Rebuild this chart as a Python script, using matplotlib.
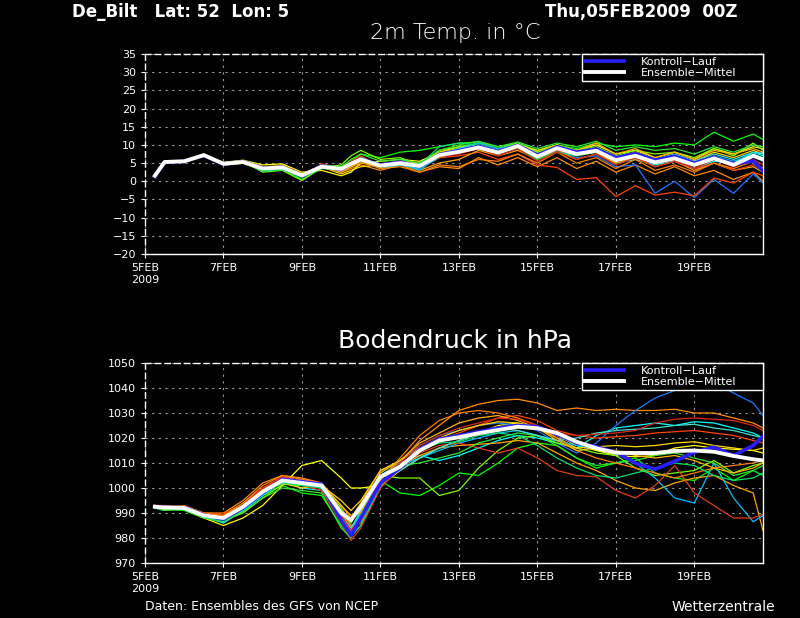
import numpy as np
import matplotlib
matplotlib.use('Agg')
from matplotlib import pyplot as plt

# forecast hours (06Z start, 12-hourly, extra step at 10FEB 06Z)
hours = [6, 12, 24, 36, 48, 60, 72, 84, 96, 108, 120, 126, 132, 144, 156, 168, 180,
         192, 204, 216, 228, 240, 252, 264, 276, 288, 300, 312, 324, 336, 348, 360, 372, 378]

tick_hours = [0, 48, 96, 144, 192, 240, 288, 336]
tick_labels = ['5FEB\n2009', '7FEB', '9FEB', '11FEB', '13FEB', '15FEB', '17FEB', '19FEB']

member_colors = ['#00ff00', '#ff8c00', '#ffff00', '#00ffff', '#1e78ff', '#ff4500',
                 '#7cfc00', '#ffa500', '#ffd700', '#00bfff', '#e03c14', '#32e632',
                 '#ff7f00', '#40e0d0', '#ffb400', '#00e070', '#dc2814']

# 2m temperature
temp_mean = [1.5, 5.3, 5.5, 7.2, 4.8, 5.3, 3.5, 3.8, 1.6, 4.0, 3.4, 4.8, 6.0, 4.3, 5.0, 4.2, 7.2,
             8.1, 9.3, 7.9, 9.7, 6.8, 9.1, 7.5, 8.4, 5.8, 7.0, 5.2, 6.3, 4.5, 6.3, 4.5, 7.0, 6.0]
temp_ctrl = [1.4, 5.2, 5.5, 7.1, 4.7, 5.4, 3.6, 3.9, 1.4, 4.2, 3.2, 4.9, 6.1, 4.5, 5.3, 4.0, 7.4,
             8.4, 9.6, 8.2, 9.9, 7.2, 9.5, 8.0, 8.9, 6.5, 7.6, 5.8, 6.9, 5.0, 6.6, 4.8, 5.6, 2.8]
temp_members = [
    [1.2, 5.0, 5.4, 7.0, 4.5, 5.0, 3.0, 3.4, 0.5, 3.5, 3.8, 5.5, 7.5, 6.5, 8.0, 8.5, 9.5,
     10.5, 10.8, 9.5, 10.5, 8.5, 10.0, 9.0, 10.5, 9.5, 10.0, 9.5, 10.5, 10.0, 13.5, 11.0, 13.0, 11.5],
    [1.6, 5.4, 5.6, 7.3, 5.0, 5.6, 3.8, 4.2, 2.0, 4.4, 2.5, 3.5, 4.5, 3.0, 4.5, 2.5, 4.0,
     3.5, 6.5, 4.5, 6.5, 4.0, 6.5, 3.5, 5.5, 2.5, 4.5, 2.0, 4.0, 1.5, 3.0, 0.5, 2.5, 0.0],
    [1.5, 5.3, 5.5, 7.2, 5.2, 5.8, 4.5, 4.8, 2.5, 3.0, 1.5, 2.5, 5.0, 5.5, 6.0, 5.5, 8.0,
     9.5, 9.8, 8.5, 10.2, 8.0, 9.5, 8.5, 10.0, 7.5, 8.5, 6.5, 8.0, 6.0, 9.0, 7.5, 9.5, 9.0],
    [1.4, 5.2, 5.5, 7.1, 4.6, 5.2, 3.4, 3.6, 1.2, 4.2, 3.0, 4.0, 5.5, 3.5, 4.5, 3.5, 6.5,
     8.0, 9.5, 8.0, 9.8, 7.5, 9.0, 7.5, 8.0, 5.0, 6.0, 4.5, 5.5, 3.5, 5.5, 5.0, 8.0, 7.0],
    [1.5, 5.3, 5.5, 7.2, 4.8, 5.3, 3.5, 3.7, 1.5, 4.5, 3.2, 5.0, 6.5, 4.5, 5.0, 4.0, 7.0,
     8.0, 9.0, 7.5, 9.5, 6.5, 8.5, 6.5, 7.0, 4.0, 4.5, -3.3, 0.0, -4.5, 0.5, -3.3, 2.0, -0.5],
    [1.3, 5.2, 5.4, 7.0, 4.4, 5.0, 3.2, 3.5, 1.0, 4.8, 3.6, 5.5, 7.0, 4.0, 5.5, 4.5, 6.5,
     7.0, 8.0, 6.0, 7.5, 4.5, 3.8, 0.5, 1.0, -4.2, -1.2, -3.8, -3.0, -4.0, 0.9, -0.5, 2.5, 1.5],
    [1.6, 5.4, 5.6, 7.3, 4.9, 5.5, 2.5, 3.0, 0.2, 3.8, 4.5, 7.0, 8.5, 6.0, 6.5, 4.5, 8.5,
     9.5, 10.5, 9.0, 10.5, 8.0, 10.0, 8.5, 9.5, 7.0, 8.5, 7.5, 8.0, 6.5, 9.0, 7.0, 10.5, 8.5],
    [1.5, 5.3, 5.5, 7.2, 5.0, 5.4, 3.8, 4.0, 1.8, 4.2, 2.8, 4.0, 5.0, 4.0, 4.8, 3.0, 5.0,
     6.0, 8.5, 7.0, 8.5, 6.0, 8.5, 6.0, 7.5, 5.0, 6.5, 4.0, 5.5, 3.0, 5.0, 3.0, 4.0, 2.5],
    [1.4, 5.2, 5.5, 7.1, 4.7, 5.2, 3.6, 4.5, 1.7, 4.0, 2.0, 3.0, 4.0, 4.5, 5.5, 5.0, 8.0,
     9.0, 10.0, 8.5, 10.0, 8.5, 10.0, 8.0, 9.0, 6.5, 8.0, 6.0, 7.0, 5.5, 8.0, 6.5, 8.5, 7.5],
    [1.5, 5.3, 5.5, 7.2, 4.8, 5.3, 3.4, 3.8, 1.4, 3.9, 3.3, 4.8, 6.2, 4.2, 4.8, 3.0, 7.0,
     9.0, 10.5, 9.0, 10.0, 7.5, 9.5, 8.0, 9.0, 6.0, 7.5, 5.5, 7.0, 5.0, 7.0, 5.5, 7.5, 8.0],
    [1.3, 5.1, 5.4, 7.0, 4.6, 5.1, 3.4, 3.9, 1.3, 4.2, 3.5, 4.5, 6.0, 4.5, 5.2, 4.0, 7.0,
     8.0, 9.0, 7.5, 9.5, 6.5, 8.5, 7.0, 8.0, 5.5, 6.5, 5.0, 6.0, 3.5, 5.0, 3.0, 4.5, 3.0],
    [1.6, 5.5, 5.6, 7.3, 5.0, 5.5, 3.6, 3.3, 1.6, 4.5, 4.0, 6.0, 7.5, 5.5, 6.0, 5.0, 8.5,
     10.0, 11.0, 9.5, 10.8, 9.0, 10.5, 9.5, 11.0, 8.5, 9.5, 8.5, 9.0, 7.5, 9.5, 8.0, 10.0, 9.5],
    [1.5, 5.3, 5.5, 7.2, 4.9, 5.4, 3.7, 4.0, 1.7, 4.0, 2.8, 4.2, 5.5, 3.5, 4.0, 2.5, 4.5,
     4.0, 6.0, 5.5, 7.5, 5.0, 8.0, 5.0, 6.5, 3.5, 6.0, 3.0, 4.5, 2.5, 5.0, 3.5, 5.5, 3.5],
    [1.5, 5.3, 5.5, 7.2, 4.8, 5.3, 3.5, 3.6, 1.5, 3.7, 3.7, 5.0, 6.5, 4.0, 5.0, 4.5, 7.5,
     9.0, 9.8, 8.5, 9.5, 7.0, 9.0, 7.5, 8.5, 6.5, 7.5, 6.0, 7.5, 5.5, 7.5, 6.0, 8.0, 7.5],
    [1.4, 5.2, 5.5, 7.1, 4.7, 5.6, 4.0, 4.3, 1.9, 4.0, 2.5, 4.0, 6.0, 4.8, 5.5, 4.5, 7.5,
     8.5, 9.5, 8.0, 9.8, 7.5, 9.5, 8.5, 10.5, 7.5, 9.0, 6.5, 8.0, 6.0, 8.5, 7.5, 9.0, 8.0],
    [1.5, 5.3, 5.5, 7.2, 4.6, 5.1, 2.8, 3.2, 1.0, 3.5, 3.3, 5.0, 6.5, 4.5, 5.5, 4.5, 9.5,
     10.5, 10.0, 8.0, 9.0, 6.0, 8.0, 7.0, 8.0, 6.0, 7.5, 6.0, 7.0, 5.0, 6.5, 4.5, 7.5, 6.5],
    [1.4, 5.2, 5.5, 7.1, 4.5, 5.0, 3.3, 3.6, 1.1, 4.3, 3.0, 4.5, 5.8, 4.0, 5.5, 3.8, 6.8,
     7.5, 9.0, 7.0, 9.0, 5.5, 8.0, 6.0, 7.5, 4.5, 6.5, 4.0, 5.5, 3.5, 6.0, 4.0, 6.0, 4.5],
]

# surface pressure
pres_mean = [992.5, 992.2, 992.0, 989.0, 988.0, 992.5, 998.5, 1003.0, 1002.0, 1001.0, 990.0, 987.2,
             992.5, 1004.5, 1008.5, 1015.0, 1019.0, 1020.3, 1021.9, 1023.2, 1024.5, 1023.9, 1022.0,
             1018.5, 1015.9, 1014.1, 1014.0, 1014.0, 1014.8, 1015.0, 1014.5, 1012.8, 1011.5, 1011.0]
pres_ctrl = [992.6, 992.3, 992.2, 989.2, 987.5, 992.0, 998.0, 1003.5, 1002.5, 1001.5, 987.0, 981.0,
             988.0, 1002.0, 1008.0, 1015.5, 1019.5, 1021.0, 1022.5, 1024.0, 1025.0, 1024.5, 1021.5,
             1018.0, 1016.5, 1014.3, 1009.9, 1007.5, 1010.7, 1014.3, 1016.3, 1013.0, 1017.0, 1020.6]
pres_members = [
    [992.0, 991.5, 991.0, 988.0, 987.0, 991.0, 997.0, 1001.0, 998.0, 997.0, 985.0, 980.0, 988.0,
     1003.0, 998.0, 997.0, 1001.0, 1006.0, 1005.0, 1010.0, 1016.0, 1018.0, 1017.0, 1012.0, 1008.0,
     1010.0, 1012.0, 1006.0, 1004.0, 1003.0, 1008.0, 1003.0, 1007.0, 1005.0],
    [993.0, 992.5, 993.0, 990.0, 990.0, 995.0, 1002.0, 1005.0, 1004.0, 1002.0, 993.0, 988.0, 994.0,
     1007.0, 1010.0, 1019.0, 1025.0, 1031.0, 1033.5, 1035.0, 1035.5, 1034.0, 1031.0, 1032.0, 1031.0,
     1031.5, 1031.0, 1031.0, 1031.5, 1030.0, 1030.0, 1028.0, 1026.0, 1024.0],
    [993.0, 992.0, 991.5, 988.0, 985.0, 988.0, 993.0, 1001.0, 1009.0, 1011.0, 1004.0, 1000.0, 1000.0,
     1001.0, 1007.0, 1012.0, 1016.0, 1019.0, 1022.0, 1025.0, 1026.0, 1024.0, 1021.0, 1017.0, 1015.0,
     1013.0, 1012.5, 1013.0, 1016.0, 1017.0, 1016.0, 1015.5, 1015.0, 1014.0],
    [992.0, 991.0, 992.5, 988.5, 986.0, 991.0, 997.0, 1002.5, 1000.0, 999.0, 988.0, 983.0, 990.0,
     1005.0, 1010.0, 1013.0, 1011.0, 1013.0, 1016.0, 1019.0, 1021.0, 1020.0, 1018.0, 1016.0, 1021.0,
     1024.0, 1025.0, 1026.0, 1025.0, 1026.5, 1026.0, 1024.0, 1022.0, 1020.0],
    [992.5, 992.0, 992.0, 989.0, 988.0, 992.0, 999.0, 1003.0, 1001.0, 1000.0, 986.0, 982.0, 991.0,
     1006.0, 1011.0, 1017.0, 1021.0, 1023.0, 1025.0, 1026.0, 1025.0, 1023.0, 1018.0, 1014.0, 1018.0,
     1025.0, 1031.0, 1036.0, 1039.0, 1042.0, 1042.0, 1038.0, 1034.0, 1029.0],
    [993.0, 993.0, 992.0, 990.0, 989.5, 994.0, 1000.0, 1004.5, 1003.0, 1002.0, 988.0, 981.0, 985.0,
     1000.0, 1009.0, 1016.0, 1019.0, 1022.0, 1025.0, 1028.0, 1029.0, 1027.0, 1023.0, 1021.0, 1020.0,
     1020.5, 1021.0, 1022.0, 1022.5, 1023.0, 1022.0, 1021.0, 1019.0, 1018.0],
    [992.0, 991.5, 992.0, 989.0, 987.0, 990.0, 996.0, 1001.5, 1001.0, 1002.0, 992.0, 986.0, 993.0,
     1005.0, 1004.0, 1004.0, 997.0, 999.0, 1008.0, 1015.0, 1020.0, 1021.0, 1018.0, 1016.0, 1014.0,
     1013.0, 1008.0, 1005.0, 1006.0, 1007.0, 1011.0, 1006.0, 1009.0, 1010.0],
    [992.5, 992.5, 992.5, 989.5, 988.5, 993.0, 999.5, 1004.0, 1003.0, 1001.0, 991.0, 985.0, 987.0,
     1002.0, 1008.0, 1013.0, 1016.0, 1017.0, 1017.5, 1018.0, 1019.0, 1018.0, 1014.0, 1010.0, 1007.0,
     1003.0, 1000.0, 999.0, 1002.0, 1004.0, 1005.0, 1001.0, 998.0, 983.0],
    [993.0, 992.5, 992.0, 989.0, 988.5, 993.0, 999.0, 1002.0, 1000.0, 1001.0, 995.0, 991.0, 995.0,
     1007.0, 1011.0, 1016.0, 1020.0, 1023.0, 1025.0, 1026.5, 1026.0, 1024.0, 1020.0, 1016.0, 1016.5,
     1017.0, 1016.5, 1017.0, 1018.0, 1018.5, 1017.0, 1016.0, 1015.0, 1016.0],
    [992.0, 992.0, 991.5, 988.5, 987.5, 992.0, 998.0, 1003.0, 1002.0, 1000.0, 988.0, 983.0, 990.0,
     1005.0, 1009.0, 1012.0, 1015.0, 1018.0, 1020.0, 1022.0, 1023.0, 1021.0, 1019.0, 1017.0, 1016.0,
     1014.0, 1010.0, 1004.0, 996.0, 994.0, 1010.0, 996.0, 986.5, 989.0],
    [992.5, 992.0, 992.0, 989.0, 988.0, 993.0, 1000.0, 1004.0, 1001.0, 999.0, 986.0, 979.0, 984.0,
     1000.0, 1008.0, 1014.0, 1017.0, 1018.0, 1016.0, 1014.0, 1016.0, 1012.0, 1007.0, 1005.0, 1004.5,
     999.0, 996.0, 1001.0, 1009.0, 998.0, 993.0, 988.0, 988.0, 989.5],
    [992.0, 991.0, 991.5, 988.0, 986.5, 990.5, 996.0, 1000.0, 999.0, 998.0, 984.0, 980.0, 989.0,
     1004.0, 1009.0, 1010.0, 1012.0, 1014.0, 1018.0, 1020.0, 1022.0, 1021.0, 1017.0, 1012.0, 1009.0,
     1010.0, 1011.0, 1013.0, 1014.0, 1012.0, 1010.0, 1005.0, 1007.0, 1009.0],
    [993.0, 992.8, 992.5, 990.0, 989.0, 994.0, 1001.0, 1005.0, 1003.5, 1002.0, 990.0, 984.0, 986.0,
     1003.0, 1012.0, 1021.0, 1027.0, 1030.0, 1031.0, 1030.0, 1028.0, 1025.0, 1020.0, 1015.0, 1012.0,
     1010.0, 1008.0, 1006.0, 1004.0, 1006.0, 1008.0, 1009.0, 1010.0, 1011.0],
    [992.5, 992.0, 992.0, 989.0, 987.5, 992.0, 998.5, 1003.0, 1001.5, 1000.5, 989.0, 984.0, 991.0,
     1004.0, 1007.0, 1012.0, 1016.0, 1019.0, 1022.0, 1024.0, 1023.0, 1021.0, 1019.0, 1020.0, 1022.0,
     1023.0, 1023.5, 1024.0, 1025.0, 1025.5, 1024.0, 1023.0, 1021.0, 1020.0],
    [993.0, 992.0, 992.0, 989.5, 988.0, 992.5, 999.0, 1003.5, 1003.0, 1001.5, 993.0, 989.0, 990.0,
     1006.0, 1011.0, 1018.0, 1022.0, 1026.0, 1028.0, 1029.0, 1027.0, 1024.0, 1019.0, 1015.0, 1016.0,
     1015.0, 1013.0, 1012.0, 1013.0, 1011.0, 1008.0, 1006.0, 1008.0, 1010.0],
    [992.5, 992.0, 992.0, 988.5, 987.0, 991.5, 998.0, 1002.0, 1001.0, 1000.0, 987.0, 980.5, 985.0,
     1001.0, 1009.0, 1015.0, 1018.0, 1018.5, 1021.0, 1022.0, 1021.0, 1017.0, 1012.0, 1008.0, 1005.0,
     1004.0, 1006.0, 1008.0, 1010.0, 1009.0, 1005.0, 1003.0, 1004.0, 1006.0],
    [993.0, 992.5, 992.5, 989.5, 988.5, 993.0, 999.5, 1004.0, 1002.5, 1001.0, 989.0, 983.0, 988.0,
     1004.0, 1010.0, 1017.0, 1021.0, 1024.0, 1026.0, 1028.0, 1027.5, 1025.0, 1022.0, 1021.0, 1021.5,
     1022.0, 1023.0, 1026.0, 1027.5, 1028.0, 1027.5, 1027.0, 1025.0, 1023.0],
]

panels = [
    ('2m Temp. in °C', temp_members, temp_ctrl, temp_mean, (-20, 35), np.arange(-20, 36, 5), 16, 'light', 33),
    ('Bodendruck in hPa', pres_members, pres_ctrl, pres_mean, (970, 1050), np.arange(970, 1051, 10), 18, 'normal', 341),
]
axes_pos = [[145 / 800, 364 / 618, 618 / 800, 200 / 618],
            [145 / 800, 55 / 618, 618 / 800, 200 / 618]]

fig = plt.figure(figsize=(8, 6.18), dpi=100, facecolor='black')

for pos, (title, members, ctrl, mean, ylim, yticks, tsize, tweight, ty) in zip(axes_pos, panels):
    ax = fig.add_axes(pos, facecolor='black')
    for vals, c in zip(members, member_colors):
        ax.plot(hours, vals, color=c, lw=0.9, zorder=2)
    ax.plot(hours, ctrl, color='#2a1eff', lw=2.6, zorder=3, label='Kontroll\u2212Lauf')
    ax.plot(hours, mean, color='white', lw=2.8, zorder=4, label='Ensemble\u2212Mittel')

    ax.set_xlim(0, 378)
    ax.set_ylim(*ylim)
    ax.set_xticks(tick_hours)
    ax.set_xticklabels(tick_labels)
    ax.set_yticks(yticks)
    ax.set_yticklabels([str(v).replace('-', '\u2212') for v in yticks])
    ax.tick_params(colors='white', labelsize=8, length=3, width=0.8)
    ax.grid(True, color='#9a9a9a', linestyle=(0, (2, 4)), linewidth=0.8)
    ax.set_axisbelow(True)
    for side in ['top', 'left', 'right', 'bottom']:
        ax.spines[side].set_color('white')
        ax.spines[side].set_linewidth(1.0)
    ax.spines['top'].set_linestyle((0, (4, 3)))
    ax.spines['left'].set_linestyle((0, (4, 3)))

    fig.text(455 / 800, 1 - ty / 618, title, color='white', fontsize=tsize, fontweight=tweight,
             ha='center', va='center')

    leg = ax.legend(loc='upper right', bbox_to_anchor=(0.707, 0.7, 0.293, 0.3), mode='expand',
                    fontsize=8, frameon=True, fancybox=False, borderaxespad=0,
                    handlelength=3.5, handletextpad=1.6, labelspacing=0.1, borderpad=0.25)
    leg.get_frame().set_facecolor('black')
    leg.get_frame().set_edgecolor('white')
    leg.get_frame().set_alpha(1)
    leg.set_zorder(10)
    for t in leg.get_texts():
        t.set_color('white')

fig.text(72 / 800, 1 - 12 / 618, 'De_Bilt   Lat: 52  Lon: 5', color='white', fontsize=12,
         fontweight='bold', va='center', ha='left')
fig.text(545 / 800, 1 - 12 / 618, 'Thu,05FEB2009  00Z', color='white', fontsize=12,
         fontweight='bold', va='center', ha='left')
fig.text(145 / 800, 1 - 607 / 618, 'Daten: Ensembles des GFS von NCEP', color='white',
         fontsize=9, va='center', ha='left')
fig.text(775 / 800, 1 - 607 / 618, 'Wetterzentrale', color='white', fontsize=10,
         va='center', ha='right')

fig.savefig('out.png', dpi=100, facecolor='black')
